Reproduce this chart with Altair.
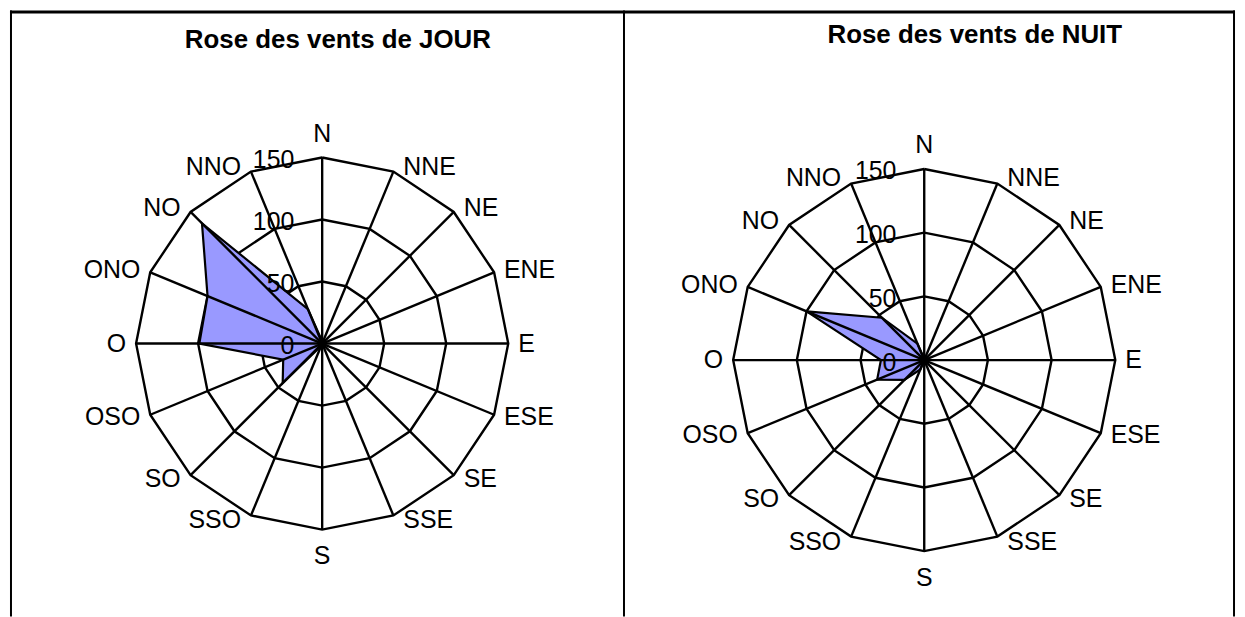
import math
import altair as alt
import pandas as pd

# ---- data ----
directions = ["N", "NNE", "NE", "ENE", "E", "ESE", "SE", "SSE",
              "S", "SSO", "SO", "OSO", "O", "ONO", "NO", "NNO"]
jour = [2, 0, 0, 0, 0, 0, 0, 0, 0, 2, 45, 34, 99, 100, 137, 30]
nuit = [1, 0, 0, 0, 0, 0, 0, 0, 0, 8, 22, 40, 34, 100, 47, 14]
ring_levels = [50, 100, 150]
tick_values = [0, 50, 100, 150]
tick_labels = ["0", "50", "100", "150"]
titles = ["Rose des vents de JOUR", "Rose des vents de NUIT"]

RMAX = 150
FONT = "Liberation Sans"
FILL = "#9999ff"
H = 609
LW = 2.4


def panel(values, title, width, cx, cy, rpx, tx, ty, frame):
    k = rpx / RMAX
    xs = alt.Scale(domain=[-cx / k, (width - cx) / k], nice=False, zero=False)
    ys = alt.Scale(domain=[-(H - cy) / k, cy / k], nice=False, zero=False)
    n = len(directions)
    ang = [2 * math.pi * i / n for i in range(n)]

    def X(f="x"):
        return alt.X(f + ":Q", scale=xs, axis=None)

    def Y(f="y"):
        return alt.Y(f + ":Q", scale=ys, axis=None)

    # rings
    rrows = []
    for r in ring_levels:
        for j in range(n + 1):
            a = ang[j % n]
            rrows.append({"ring": r, "o": j, "x": r * math.sin(a), "y": r * math.cos(a)})
    rings = alt.Chart(pd.DataFrame(rrows)).mark_line(
        stroke="black", strokeWidth=LW, strokeJoin="miter").encode(
        x=X(), y=Y(), detail="ring:N", order="o:Q")

    # spokes
    srows = [{"x": 0.0, "y": 0.0, "x2": RMAX * math.sin(a), "y2": RMAX * math.cos(a)} for a in ang]
    spokes = alt.Chart(pd.DataFrame(srows)).mark_rule(
        stroke="black", strokeWidth=LW).encode(
        x=X(), y=Y(), x2="x2:Q", y2="y2:Q")

    # polygon
    prows = []
    for j in range(n + 1):
        v = values[j % n]
        a = ang[j % n]
        prows.append({"o": j, "x": v * math.sin(a), "y": v * math.cos(a)})
    poly = alt.Chart(pd.DataFrame(prows)).mark_line(
        filled=True, fill=FILL, stroke="black", strokeWidth=2.2, strokeJoin="miter").encode(
        x=X(), y=Y(), order="o:Q")

    # direction labels
    groups = {"left": [], "right": [], "center": []}
    for i, d in enumerate(directions):
        s, c = math.sin(ang[i]), math.cos(ang[i])
        ex, ey = RMAX * s, RMAX * c
        if abs(s) < 1e-6:
            off = 24 if c > 0 else 27
            groups["center"].append({"t": d, "x": 0.0, "y": ey + (off / k) * (1 if c > 0 else -1)})
        else:
            g = "left" if s > 0 else "right"
            groups[g].append({"t": d, "x": ex + (10 / k) * (1 if s > 0 else -1),
                              "y": ey + 5.5 * c / k})
    labels = []
    for g, rows in groups.items():
        labels.append(alt.Chart(pd.DataFrame(rows)).mark_text(
            align=g, baseline="middle", font=FONT, fontSize=25, color="black").encode(
            x=X(), y=Y(), text="t:N"))

    # radial tick labels
    trows = [{"t": t, "x": -28 / k, "y": v - 2.5 / k} for t, v in zip(tick_labels, tick_values)]
    ticks = alt.Chart(pd.DataFrame(trows)).mark_text(
        align="right", baseline="middle", font=FONT, fontSize=25, color="black").encode(
        x=X(), y=Y(), text="t:N")

    # title
    ttl = alt.Chart(pd.DataFrame({"t": [title]})).mark_text(
        align="center", baseline="alphabetic", font=FONT, fontSize=26,
        fontWeight="bold", color="black").encode(
        x=alt.value(tx), y=alt.value(ty), text="t:N")

    one = pd.DataFrame({"a": [0]})
    frames = []
    for (x1, y1, x2, y2, w) in frame:
        frames.append(alt.Chart(one).mark_rule(color="black", strokeWidth=w).encode(
            x=alt.value(x1), y=alt.value(y1), x2=alt.value(x2), y2=alt.value(y2)))

    return alt.layer(rings, poly, spokes, ticks, *labels, ttl, *frames).properties(
        width=width, height=H)


WA, WB = 618, 613
left = panel(jour, titles[0], WA, 313.7, 334.7, 187, 329.5, 38,
             [(1, 0, 1, H, 2), (0, 1.5, WA, 1.5, 3), (WA - 1, 0, WA - 1, H, 2)])
right = panel(nuit, titles[1], WB, 300.7, 351.3, 192, 351.5, 33,
              [(0, 1.5, WB, 1.5, 3), (WB - 1, 0, WB - 1, H, 2)])

chart = alt.hconcat(left, right, spacing=0, bounds="flush").configure_view(
    strokeWidth=0).properties(padding=0, background="white")

chart.save("out.html", embed_options={"renderer": "svg", "actions": False})
